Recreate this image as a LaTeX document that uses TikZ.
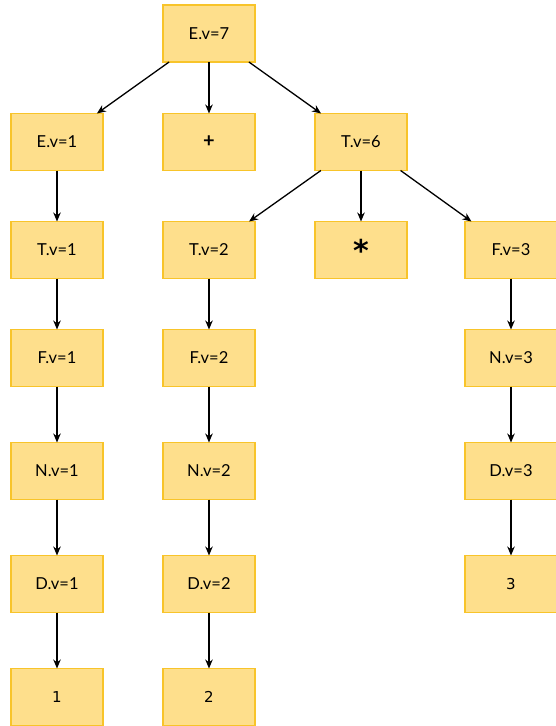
\documentclass[tikz,border=0pt]{standalone}
\usepackage{fontspec}
\setmainfont{Lato}
\newfontfamily\digitfont{DejaVu Sans}
\usetikzlibrary{arrows.meta}
\definecolor{boxfill}{HTML}{FEDF8C}
\definecolor{boxline}{HTML}{F8C42A}
\begin{document}
\begin{tikzpicture}[x=1pt,y=-1pt,
  box/.style={draw=boxline,fill=boxfill,line width=1.4pt,minimum width=92pt,minimum height=57pt,
    inner sep=0pt,outer sep=0pt,font=\fontsize{16.5}{19}\selectfont},
  leaf/.style={box,font=\digitfont\fontsize{15}{18}\selectfont},
  sym/.style={box,font=\fontsize{20}{24}\selectfont\bfseries},
  edge/.style={line width=1.3pt,-{Stealth[length=9pt,width=7.5pt]}}]
\useasboundingbox (0,0) rectangle (555,726);
% tree nodes
\node[box] (E7) at (209,33.5) {E.v=7};
\node[box] (E1) at (57,142) {E.v=1};
\node[sym] (plus) at (209,142) {+};
\node[box] (T6) at (361,142) {T.v=6};
\node[box] (T1) at (57,250) {T.v=1};
\node[box] (T2) at (209,250) {T.v=2};
\node[box,font=\digitfont\bfseries\fontsize{30}{30}\selectfont] (star) at (361,250) {\raisebox{-0.42ex}{*}};
\node[box] (F3) at (511,250) {F.v=3};
\node[box] (F1) at (57,358) {F.v=1};
\node[box] (F2) at (209,358) {F.v=2};
\node[box] (N3) at (511,358) {N.v=3};
\node[box] (N1) at (57,471) {N.v=1};
\node[box] (N2) at (209,471) {N.v=2};
\node[box] (D3) at (511,471) {D.v=3};
\node[box] (D1) at (57,584) {D.v=1};
\node[box] (D2) at (209,584) {D.v=2};
\node[leaf] (L3) at (511,584) {3};
\node[leaf] (L1) at (57,697) {1};
\node[leaf] (L2) at (209,697) {2};
% parent to child edges
\draw[edge] (E7) -- (E1);
\draw[edge] (E7) -- (plus);
\draw[edge] (E7) -- (T6);
\draw[edge] (E1) -- (T1);
\draw[edge] (T6) -- (T2);
\draw[edge] (T6) -- (star);
\draw[edge] (T6) -- (F3);
\draw[edge] (T1) -- (F1);
\draw[edge] (T2) -- (F2);
\draw[edge] (F3) -- (N3);
\draw[edge] (F1) -- (N1);
\draw[edge] (F2) -- (N2);
\draw[edge] (N3) -- (D3);
\draw[edge] (N1) -- (D1);
\draw[edge] (N2) -- (D2);
\draw[edge] (D3) -- (L3);
\draw[edge] (D1) -- (L1);
\draw[edge] (D2) -- (L2);
\end{tikzpicture}
\end{document}
